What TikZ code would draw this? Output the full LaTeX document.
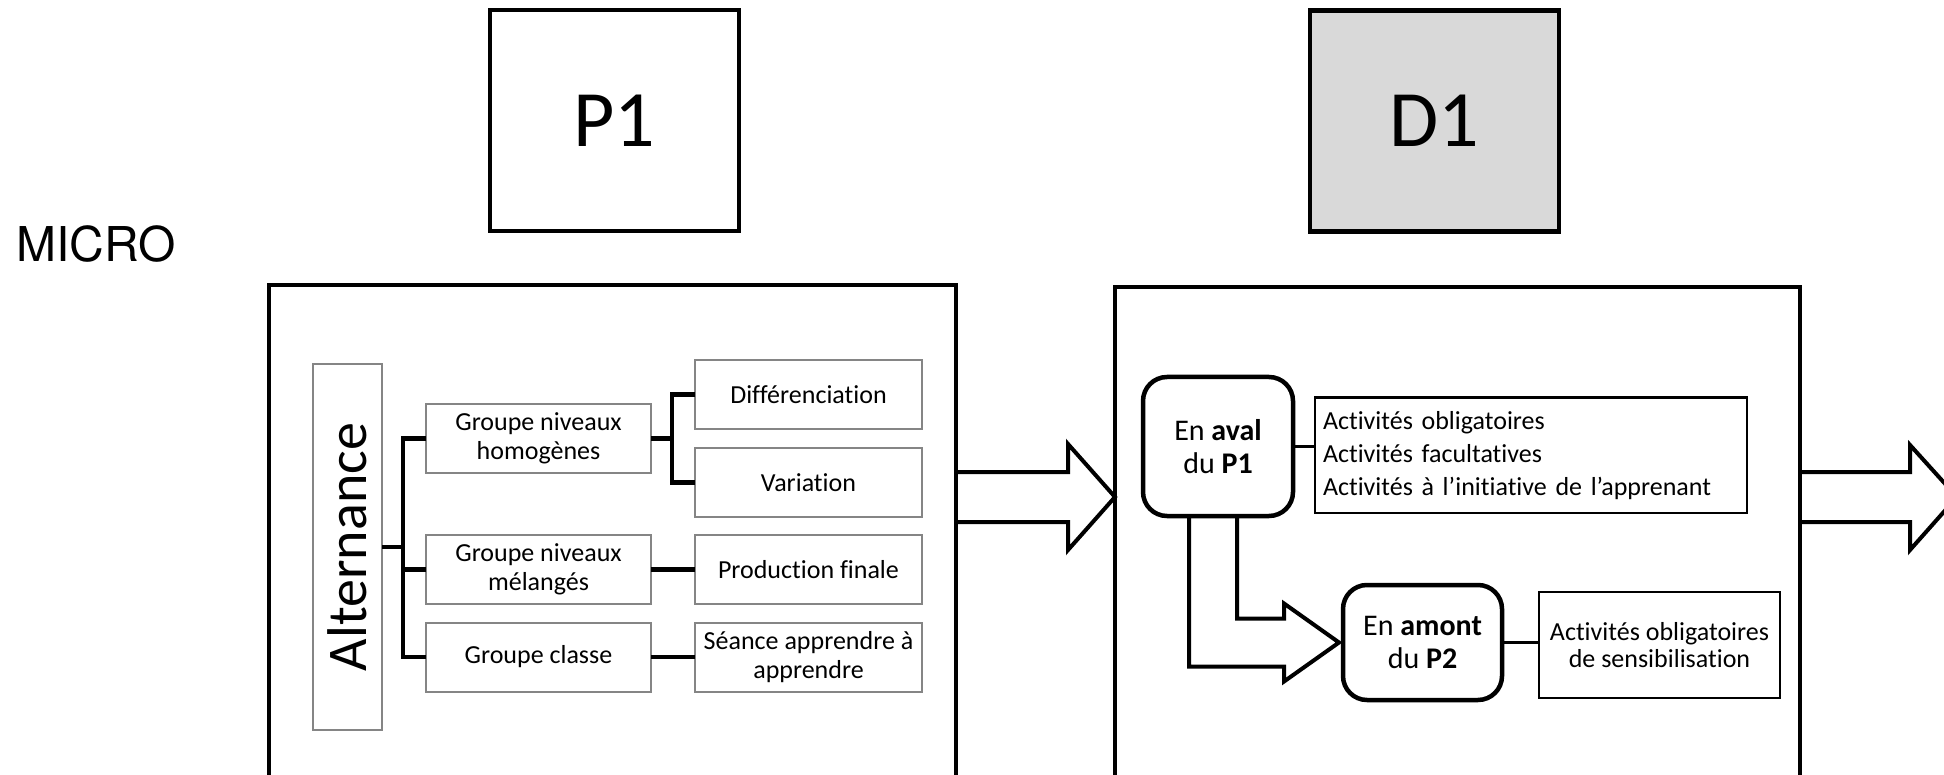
\documentclass[tikz,border=0pt]{standalone}
\usepackage{fontspec}
\setmainfont{Carlito}[Ligatures=CommonOff]
\newfontfamily\herosfont{TeX Gyre Heros}
\usetikzlibrary{calc}
\definecolor{dgray}{HTML}{D9D9D9}
\definecolor{bgray}{HTML}{858585}
\begin{document}
\begin{tikzpicture}[x=1pt,y=-1pt,
  every node/.style={outer sep=0pt},
  topbox/.style={draw, line width=4.5pt, minimum width=249pt, minimum height=221pt, font=\fontsize{80}{96}\selectfont},
  bigbox/.style={draw, line width=4.5pt},
  graybox/.style={draw=bgray, line width=2pt, align=center, inner sep=2pt, font=\fontsize{26}{29}\selectfont},
  gbox/.style={graybox, minimum width=225pt, minimum height=69pt},
  rbox/.style={graybox, minimum width=227pt, minimum height=69pt},
  roundbox/.style={draw, line width=4.5pt, rounded corners=24pt, align=center, font=\fontsize{30}{33}\selectfont},
  actbox/.style={draw, line width=2.5pt, inner xsep=8pt, inner ysep=4pt, font=\fontsize{26}{33}\selectfont},
  conn/.style={line width=4.2pt},
  conntwo/.style={line width=3.5pt},
  hollow/.style={draw, line width=4pt, line join=miter}
]
\useasboundingbox (0,0) rectangle (1944,775);
\clip (0,0) rectangle (1944,775);

% top boxes and level label
\node[topbox] (p1) at (614.5,120.5) {P1};
\node[topbox, fill=dgray] (d1) at (1434.5,121) {D1};
\node[font=\herosfont\fontsize{48}{58}\selectfont, inner sep=0pt] (micro) at (96,244) {MICRO};

% big frames
\node[bigbox, minimum width=687pt, minimum height=515pt] (leftbig) at (612.5,542.5) {};
\node[bigbox, minimum width=685pt, minimum height=513pt] (d1big) at (1457.5,543.5) {};

% left tree
\node[graybox, rotate=90, minimum width=366pt, minimum height=69pt, font=\fontsize{56}{60}\selectfont] (alt) at (347.5,547) {Alternance};
\node[gbox] (gnh) at (538.5,438.5) {Groupe niveaux\\homogènes};
\node[gbox] (gnm) at (538.5,569.5) {Groupe niveaux\\mélangés};
\node[gbox] (gc) at (538.5,657) {Groupe classe};
\node[rbox] (diff) at (808.5,394.5) {Différenciation};
\node[rbox] (var) at (808.5,482.5) {Variation};
\node[rbox] (prod) at (808.5,569.5) {Production finale};
\node[rbox] (seance) at (808.5,657) {Séance apprendre à\\apprendre};

\draw[conn] (gnh.west) -- ++(-23,0) |- (gc.west);
\draw[conn] (gnm.west) -- ++(-23,0);
\draw[conn] (alt.south) -- ++(21,0);
\draw[conn] (gnh.east) -- ++(21,0);
\draw[conn] (diff.west) -- ++(-23,0) |- (var.west);
\draw[conn] (gnm.east) -- (prod.west);
\draw[conn] (gc.east) -- (seance.west);

% D1 content
\node[roundbox, minimum width=150pt, minimum height=139pt] (aval) at (1218,446.5) {En \textbf{aval}\\du \textbf{P1}};
\node[actbox, text width=416pt, minimum height=115.5pt, align=left] (acts) at (1531,455.25) {Activités obligatoires\\Activités facultatives\\Activités à l’initiative de l’apprenant};
\node[roundbox, minimum width=159pt, minimum height=115pt] (amont) at (1422.5,642.5) {En \textbf{amont}\\du \textbf{P2}};
\node[actbox, minimum width=241pt, minimum height=106pt, align=center, font=\fontsize{26}{27}\selectfont] (sens) at (1659.5,645) {Activités obligatoires\\de sensibilisation};

\draw[conntwo] (aval.east) -- (aval.east -| acts.west);
\draw[conntwo] (amont.east) -- (amont.east -| sens.west);

% hollow arrows
\coordinate (lvl) at (0,497);
\coordinate (a1s) at (leftbig.east |- lvl);
\coordinate (a1t) at (d1big.west |- lvl);
\draw[hollow] ($(a1s)+(0,-25)$) -- ($(a1t)+(-47,-25)$) -- ($(a1t)+(-47,-53)$) -- (a1t) -- ($(a1t)+(-47,53)$) -- ($(a1t)+(-47,25)$) -- ($(a1s)+(0,25)$);

\coordinate (a2s) at (d1big.east |- lvl);
\draw[hollow] ($(a2s)+(0,-25)$) -- ($(a2s)+(110,-25)$) -- ($(a2s)+(110,-52)$) -- ($(a2s)+(157,0)$) -- ($(a2s)+(110,53)$) -- ($(a2s)+(110,25)$) -- ($(a2s)+(0,25)$);

\coordinate (et) at ($(amont.west)+(-4,0)$);
\draw[hollow] ($(aval.south)+(-29,0)$) |- ($(et)+(-55,24)$) -- ($(et)+(-55,39)$) -- (et) -- ($(et)+(-55,-39)$) -- ($(et)+(-55,-24)$) -| ($(aval.south)+(19,0)$);
\end{tikzpicture}
\end{document}
